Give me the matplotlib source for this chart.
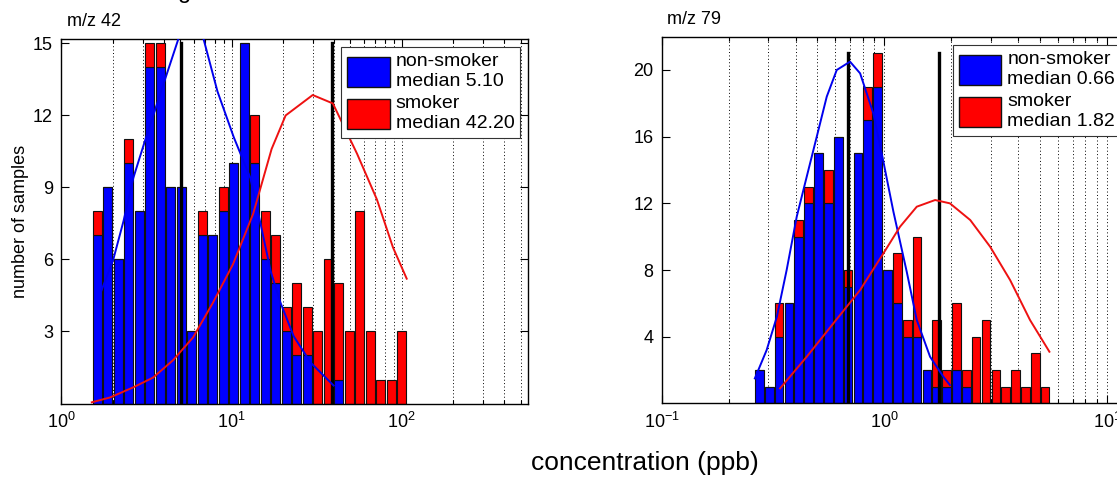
import numpy as np
import matplotlib.pyplot as plt
from matplotlib.patches import Patch
from matplotlib.ticker import LogLocator, NullFormatter, FixedLocator

plt.rcParams['font.family'] = ['Liberation Sans', 'DejaVu Sans']
plt.rcParams['mathtext.default'] = 'regular'

# ---- m/z 42 ----
bins42 = (0.181, 2.031, 30)   # log10 of first/last bin edge, number of bins
nonsmoker42 = [7, 9, 6, 10, 8, 14, 14, 9, 9, 3, 7, 7, 8, 10, 15,
               10, 6, 5, 3, 2, 2, 0, 0, 1, 0, 0, 0, 0, 0, 0]
smoker42 = [1, 0, 0, 1, 0, 1, 1, 0, 0, 0, 1, 0, 1, 0, 0,
            2, 2, 2, 1, 3, 2, 3, 6, 4, 3, 8, 3, 1, 1, 3]
median_lines42 = [5.07, 39.0]
labels42 = ['non-smoker\nmedian 5.10', 'smoker\nmedian 42.20']
fit_ns42_x = [1.72, 2.02, 2.32, 2.65, 3.04, 3.98, 4.88, 5.74, 6.84, 8.27,
              10.3, 12.9, 14.8, 17.0, 19.4, 23.2, 29.2, 39.8]
fit_ns42_y = [4.7, 6.0, 7.6, 9.4, 10.75, 13.3, 15.2, 16.0, 15.2, 13.0,
              11.1, 9.4, 7.5, 5.5, 4.2, 2.8, 1.7, 0.75]
fit_s42_x = [1.51, 1.93, 2.64, 3.46, 4.53, 5.94, 7.78, 10.2, 13.4, 17.2,
             20.8, 30.0, 39.4, 54.7, 71.5, 88.9, 107]
fit_s42_y = [0.05, 0.25, 0.67, 1.08, 1.8, 2.75, 4.2, 5.8, 7.9, 10.6,
             12.0, 12.85, 12.5, 10.4, 8.5, 6.5, 5.2]

# ---- m/z 79 ----
bins79 = (-0.5836, 0.7441, 30)
nonsmoker79 = [2, 1, 4, 6, 10, 12, 15, 12, 16, 7, 15, 17, 19, 8, 6,
               4, 4, 2, 1, 1, 2, 1, 0, 0, 0, 0, 0, 0, 0, 0]
smoker79 = [0, 0, 2, 0, 1, 1, 0, 2, 0, 1, 0, 2, 2, 0, 3,
            1, 6, 0, 4, 1, 4, 1, 4, 5, 2, 1, 2, 1, 3, 1]
median_lines79 = [0.689, 1.766]
labels79 = ['non-smoker\nmedian 0.66', 'smoker\nmedian 1.82']
fit_ns79_x = [0.262, 0.296, 0.329, 0.364, 0.404, 0.448, 0.497, 0.551, 0.611, 0.701,
              0.778, 0.892, 0.99, 1.098, 1.26, 1.398, 1.604, 1.84, 1.97]
fit_ns79_y = [1.5, 3.2, 5.2, 8.0, 11.2, 13.6, 16.0, 18.4, 20.0, 20.5,
              19.8, 17.4, 14.5, 11.5, 7.9, 5.0, 2.8, 1.6, 1.1]
fit_s79_x = [0.340, 0.448, 0.590, 0.778, 0.99, 1.176, 1.398, 1.69, 1.97, 2.43,
             2.985, 3.67, 4.51, 5.51]
fit_s79_y = [0.9, 2.8, 4.8, 6.8, 9.0, 10.6, 11.8, 12.2, 12.0, 11.0,
             9.4, 7.4, 5.0, 3.1]


def panel(ax, bins, ns, sm, medians, labels, fns, fs, title, xlim, ylim, yticks):
    lo, hi, n = bins
    edges = np.linspace(lo, hi, n + 1)
    step = edges[1] - edges[0]
    centers = edges[:-1] + step / 2
    w = 0.88 * step
    left = 10 ** (centers - w / 2)
    width = 10 ** (centers + w / 2) - left
    ns = np.array(ns)
    sm = np.array(sm)
    ax.bar(left, ns, width=width, align='edge', color='#0000ff',
           edgecolor='#111111', linewidth=0.8, zorder=2)
    ax.bar(left, sm, width=width, bottom=ns, align='edge', color='#ff0000',
           edgecolor='#111111', linewidth=0.8, zorder=2)
    top = (ns + sm).max()
    for m in medians:
        ax.plot([m, m], [0, top], color='k', linewidth=2.4, zorder=3)
    ax.plot(fns[0], fns[1], color='#0000ee', linewidth=1.4, zorder=4)
    ax.plot(fs[0], fs[1], color='#ee1111', linewidth=1.4, zorder=4)

    ax.set_xscale('log')
    ax.set_xlim(*xlim)
    ax.set_ylim(*ylim)
    ax.xaxis.set_major_locator(LogLocator(base=10))
    ax.xaxis.set_minor_locator(LogLocator(base=10, subs=np.arange(2, 10)))
    ax.xaxis.set_minor_formatter(NullFormatter())
    ax.yaxis.set_major_locator(FixedLocator(yticks))
    ax.set_axisbelow(True)
    ax.grid(True, which='both', axis='x', linestyle=(0, (1, 2.5)),
            color='k', linewidth=0.7)
    ax.tick_params(which='both', direction='in', top=True, right=True,
                   labelsize=13, width=0.8)
    ax.tick_params(which='major', length=6, pad=6)
    ax.tick_params(which='minor', length=3)
    for s in ax.spines.values():
        s.set_linewidth(1.0)
    ax.text(0.012, 1.025, title, transform=ax.transAxes, fontsize=13,
            ha='left', va='bottom')
    handles = [Patch(facecolor='#0000ff', edgecolor='#111111'),
               Patch(facecolor='#ff0000', edgecolor='#111111')]
    leg = ax.legend(handles, labels, loc='upper right', fontsize=14,
                    handlelength=2.2, handleheight=2.0, handletextpad=0.3,
                    labelspacing=0.3, borderpad=0.3, borderaxespad=0.4,
                    fancybox=False, framealpha=1, edgecolor='#333333')
    leg.get_frame().set_linewidth(0.8)
    leg.set_zorder(10)


fig = plt.figure(figsize=(11.17, 5.03), dpi=100)
ax1 = fig.add_axes([0.0549, 0.1978, 0.418, 0.724])
ax2 = fig.add_axes([0.5924, 0.198, 0.418, 0.7278])

panel(ax1, bins42, nonsmoker42, smoker42, median_lines42, labels42,
      (fit_ns42_x, fit_ns42_y), (fit_s42_x, fit_s42_y), 'm/z 42',
      (1, 554), (0, 15.17), [3, 6, 9, 12, 15])
panel(ax2, bins79, nonsmoker79, smoker79, median_lines79, labels79,
      (fit_ns79_x, fit_ns79_y), (fit_s79_x, fit_s79_y), 'm/z 79',
      (0.1, 12.5), (0, 21.96), [4, 8, 12, 16, 20])

ax1.set_ylabel('number of samples', fontsize=13, labelpad=3)
fig.text(0.577, 0.08, 'concentration (ppb)', fontsize=19, ha='center', va='center')
# bottom of a title that is cut off at the top edge of the picture
fig.text(185 / 1117, 1.0 + 1.5 / 503, 'g', fontsize=17, ha='center', va='baseline')

fig.savefig('out.png', dpi=100)
